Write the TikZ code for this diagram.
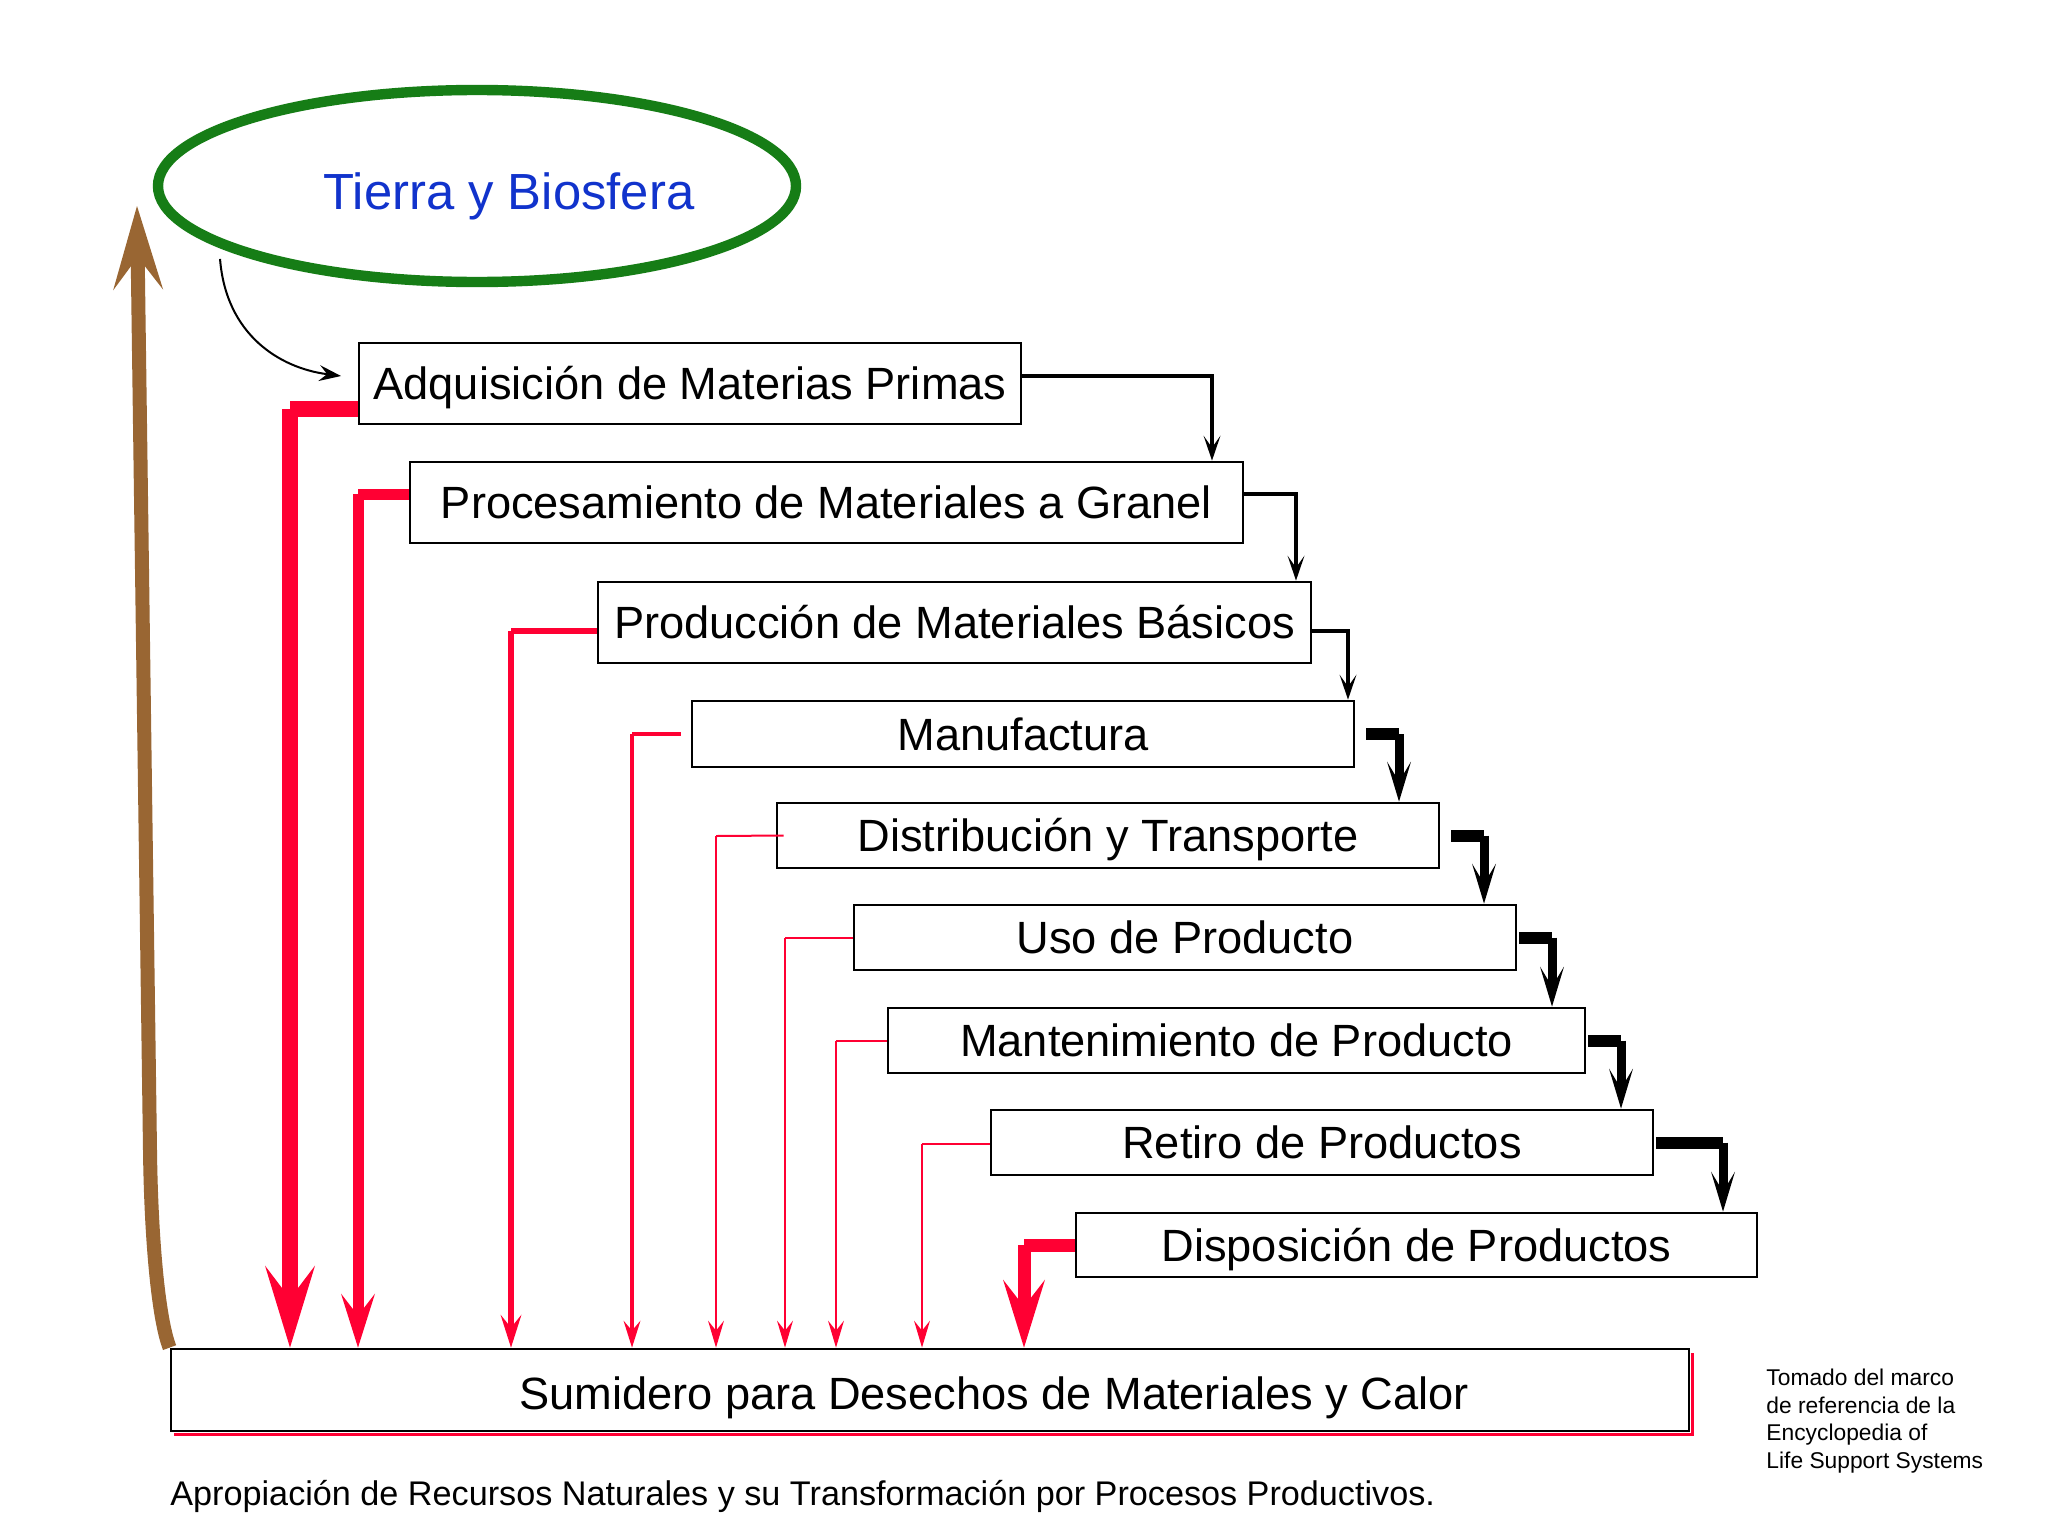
\documentclass[tikz,border=0pt]{standalone}
\usepackage{fontspec}
\setmainfont{Liberation Sans}
\usetikzlibrary{arrows.meta,shapes.geometric,calc}
\definecolor{myred}{RGB}{255,0,51}
\definecolor{mybrown}{RGB}{153,102,51}
\definecolor{mygreen}{RGB}{22,125,22}
\definecolor{myblue}{RGB}{17,51,204}
\newcommand\bxfont{\fontsize{22.6pt}{27pt}\selectfont}
\newcommand\tierrafont{\fontsize{25.4pt}{30pt}\selectfont}
\newcommand\capfont{\fontsize{17.1pt}{20pt}\selectfont}
\newcommand\notefont{\fontsize{11.4pt}{13.7pt}\selectfont}
\begin{document}
\begin{tikzpicture}[x=0.5pt,y=-0.5pt,
  capc/.style={text height=#1, text depth=0pt},
  box/.style={draw, line width=1.4pt, fill=white, inner sep=0pt, font=\bxfont, capc=16.2pt},
  blkthin/.style={line width=1.6pt, -{Stealth[length=12.5pt,width=8.5pt,inset=6pt,line width=0pt]}},
  blkh/.style={line width=6pt, line cap=butt},
  blkv/.style={line width=4.5pt, line cap=butt, -{Stealth[length=20pt,width=12pt,inset=10pt,line width=0pt]}},
  rh/.style={draw=myred, line cap=butt},
  ra/.style={draw=myred, fill=myred, line cap=butt},
]
\useasboundingbox (0,0) rectangle (2048,1536);
\fill[white] (0,0) rectangle (2048,1536);

% Earth ellipse
\node[ellipse, draw=mygreen, line width=5.2pt, minimum width=319pt, minimum height=96pt, inner sep=0pt] (earth) at (477,186) {};
\node[text=myblue, font=\tierrafont, capc=18.2pt] (earthlabel) at (509,191) {Tierra y Biosfera};

% Boxes
\node[box, minimum width=331pt, minimum height=40.5pt] (b1) at (690,383.5) {Adquisición de Materias Primas};
\node[box, minimum width=416.5pt, minimum height=40.5pt] (b2) at (826.5,502.5) {Procesamiento de Materiales a Granel};
\node[box, minimum width=356.5pt, minimum height=40.5pt] (b3) at (954.5,622.5) {Producción de Materiales Básicos};
\node[box, minimum width=331pt, minimum height=33pt] (b4) at (1023,734) {Manufactura};
\node[box, minimum width=331pt, minimum height=32.5pt] (b5) at (1108,835.5) {Distribución y Transporte};
\node[box, minimum width=331pt, minimum height=32.5pt] (b6) at (1185,937.5) {Uso de Producto};
\node[box, minimum width=348.5pt, minimum height=32.5pt] (b7) at (1236.5,1040.5) {Mantenimiento de Producto};
\node[box, minimum width=331pt, minimum height=32.5pt] (b8) at (1322,1142.5) {Retiro de Productos};
\node[box, minimum width=340.5pt, minimum height=32pt] (b9) at (1416.5,1245) {Disposición de Productos};

% Sink
\draw[myred, line width=1.6pt] ([shift={(1.6pt,-1.8pt)}]930,1390) ++(-379.5pt,-20.5pt) -- ++(759pt,0pt) -- ++(0pt,41pt);
\node[box, minimum width=759pt, minimum height=41pt] (sink) at (930,1390) {};
\node[font=\bxfont, capc=16.2pt] (sinklabel) at (994,1393) {Sumidero para Desechos de Materiales y Calor};

% Brown return arrow
\coordinate (btip) at (137,206);
\draw[mybrown, line width=7pt, -{Stealth[length=42pt,width=25pt,inset=16.5pt,line width=0pt]}]
  (sink.north west) .. controls (158,1318) and (151,1235) .. (150,1150) -- (btip);

% Earth to acquisition
\coordinate (e1) at (341,376);
\draw[line width=1pt, -{Stealth[length=11pt,width=8pt,inset=4pt,line width=0pt]}]
  ([shift={(5.5pt,-8pt)}]earth.192) .. controls (226,335) and (280,368) .. (e1);

% Thin black flow arrows
\draw[blkthin] (b1.east |- 0,376) -| (b2.north -| 1212,0);
\draw[blkthin] (b2.east |- 0,494) -| (b3.north -| 1296,0);
\draw[blkthin] (b3.east |- 0,631) -| (b4.north -| 1348,0);

% Thick black flow arrows (stepped corners)
\coordinate (k4) at (1399,734);
\draw[blkh] ([xshift=5.5pt]b4.east) -- (k4);
\draw[blkv] (k4) -- (b5.north -| k4);
\coordinate (k5) at (1484,835.5);
\draw[blkh] ([xshift=5.5pt]b5.east) -- (k5);
\draw[blkv] (k5) -- (b6.north -| k5);
\coordinate (k6) at (1552,937.5);
\draw[blkh] ([xshift=1pt]b6.east) -- (k6);
\draw[blkv] (k6) -- (b7.north -| k6);
\coordinate (k7) at (1621,1040.5);
\draw[blkh] ([xshift=1pt]b7.east) -- (k7);
\draw[blkv] (k7) -- (b8.north -| k7);
\coordinate (k8) at (1723,1142.5);
\draw[blkh] ([xshift=1pt]b8.east) -- (k8);
\draw[blkv] (k8) -- (b9.north -| k8);

% Red waste arrows
\coordinate (q1) at (290,409);
\draw[rh, line width=8pt] (b1.west |- q1) -- (q1);
\draw[ra, line width=8pt, -{Stealth[length=41pt,width=25pt,inset=16.5pt,line width=0pt]}] (q1) -- (sink.north -| q1);
\coordinate (q2) at (358,494);
\draw[rh, line width=5.5pt] (b2.west |- q2) -- (q2);
\draw[ra, line width=5.5pt, -{Stealth[length=27pt,width=17pt,inset=11pt,line width=0pt]}] (q2) -- (sink.north -| q2);
\coordinate (q3) at (511,631);
\draw[rh, line width=3pt] (b3.west |- q3) -- (q3);
\draw[ra, line width=3pt, -{Stealth[length=16.5pt,width=10.5pt,inset=6.5pt,line width=0pt]}] (q3) -- (sink.north -| q3);
\coordinate (q4) at (632,734);
\draw[rh, line width=2pt] ([xshift=-5pt]b4.west) -- (q4);
\draw[ra, line width=2pt, -{Stealth[length=13.5pt,width=8.5pt,inset=5pt,line width=0pt]}] (q4) -- (sink.north -| q4);
\coordinate (q5) at (716,836);
\draw[rh, line width=1pt] ([xshift=4pt]b5.west) -- (q5);
\draw[ra, line width=1pt, -{Stealth[length=13.5pt,width=8pt,inset=5pt,line width=0pt]}] (q5) -- (sink.north -| q5);
\coordinate (q6) at (785,938);
\draw[rh, line width=1pt] (b6.west |- q6) -- (q6);
\draw[ra, line width=1pt, -{Stealth[length=13.5pt,width=8pt,inset=5pt,line width=0pt]}] (q6) -- (sink.north -| q6);
\coordinate (q7) at (836,1041);
\draw[rh, line width=1pt] (b7.west |- q7) -- (q7);
\draw[ra, line width=1pt, -{Stealth[length=13.5pt,width=8pt,inset=5pt,line width=0pt]}] (q7) -- (sink.north -| q7);
\coordinate (q8) at (922,1144);
\draw[rh, line width=1pt] (b8.west |- q8) -- (q8);
\draw[ra, line width=1pt, -{Stealth[length=13.5pt,width=8pt,inset=5pt,line width=0pt]}] (q8) -- (sink.north -| q8);
\coordinate (q9) at (1024,1245);
\draw[rh, line width=6.5pt] (b9.west |- q9) -- (q9);
\draw[ra, line width=6.5pt, -{Stealth[length=34pt,width=21pt,inset=13.5pt,line width=0pt]}] (q9) -- (sink.north -| q9);

% Captions
\node[anchor=west, font=\capfont, inner sep=0pt, capc=12.2pt] (caption) at (170,1493) {Apropiación de Recursos Naturales y su Transformación por Procesos Productivos.};
\node[anchor=north west, align=left, font=\notefont, inner sep=0pt] (note) at (1766,1369) {Tomado del marco\\de referencia de la\\Encyclopedia of\\Life Support Systems};
\end{tikzpicture}
\end{document}
